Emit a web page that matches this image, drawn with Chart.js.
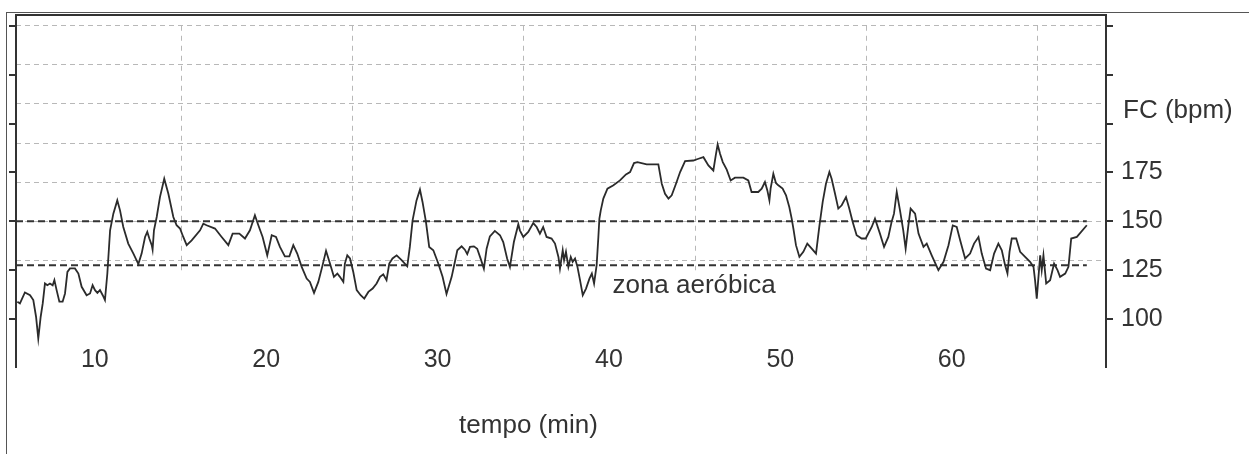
<!DOCTYPE html>
<html lang="pt">
<head>
<meta charset="utf-8">
<title>FC (bpm) x tempo (min)</title>
<script src="https://cdn.jsdelivr.net/npm/chart.js@4.4.1/dist/chart.umd.min.js"></script>
<style>
  html, body { margin: 0; padding: 0; background: #fff; }
  #wrap { position: relative; width: 1249px; height: 454px; }
  #frame { position: absolute; left: 6px; top: 12px; right: 0; bottom: 0;
           border-left: 1px solid #555; border-top: 1px solid #555; pointer-events: none; }
</style>
</head>
<body>
<div id="wrap">
  <canvas id="fcChart" width="1249" height="454"></canvas>
  <div id="frame"></div>
</div>
<script>
// tempo (min) e frequência cardíaca (bpm)
const timeMin = [
  5.48, 5.63, 5.92, 6.22, 6.41, 6.57, 6.70, 6.84, 6.96, 7.09, 7.23, 7.38, 7.54, 7.64, 7.77, 7.93,
  8.12, 8.26, 8.40, 8.55, 8.84, 9.04, 9.23, 9.52, 9.72, 9.87, 10.01, 10.15, 10.30, 10.46, 10.59, 10.73,
  10.89, 11.08, 11.31, 11.47, 11.66, 11.95, 12.25, 12.54, 12.73, 12.93, 13.06, 13.18, 13.32, 13.37, 13.45, 13.61,
  13.80, 14.05, 14.29, 14.58, 14.77, 14.97, 15.16, 15.36, 15.65, 16.14, 16.33, 16.52, 17.01, 17.40, 17.79, 18.04,
  18.43, 18.76, 19.05, 19.34, 19.54, 19.79, 20.06, 20.32, 20.57, 20.80, 21.09, 21.35, 21.58, 21.81, 22.07, 22.36,
  22.55, 22.79, 23.04, 23.29, 23.49, 23.72, 23.95, 24.15, 24.30, 24.50, 24.59, 24.73, 24.89, 25.08, 25.28, 25.51,
  25.72, 25.96, 26.21, 26.44, 26.64, 26.83, 27.02, 27.18, 27.37, 27.61, 27.90, 28.23, 28.38, 28.54, 28.77, 28.97,
  29.12, 29.32, 29.51, 29.75, 30.04, 30.29, 30.52, 30.82, 31.01, 31.15, 31.40, 31.59, 31.73, 31.89, 32.12, 32.31,
  32.51, 32.70, 32.86, 33.05, 33.34, 33.64, 33.83, 34.06, 34.22, 34.45, 34.71, 34.80, 35.00, 35.29, 35.58, 35.78,
  35.97, 36.16, 36.36, 36.65, 36.85, 37.05, 37.14, 37.30, 37.38, 37.49, 37.63, 37.77, 37.88, 38.02, 38.16, 38.31,
  38.47, 38.66, 38.86, 39.00, 39.13, 39.28, 39.38, 39.44, 39.52, 39.67, 39.91, 40.26, 40.64, 40.99, 41.23, 41.46,
  41.66, 42.20, 42.88, 43.08, 43.27, 43.47, 43.66, 43.91, 44.15, 44.44, 44.92, 45.22, 45.51, 45.80, 46.09, 46.23,
  46.34, 46.48, 46.64, 46.87, 47.10, 47.35, 47.84, 48.13, 48.32, 48.71, 48.91, 49.10, 49.24, 49.36, 49.43, 49.59,
  49.74, 49.88, 50.13, 50.33, 50.52, 50.66, 50.76, 50.91, 51.11, 51.34, 51.57, 51.83, 52.08, 52.27, 52.47, 52.66,
  52.86, 52.99, 53.19, 53.38, 53.58, 53.83, 54.02, 54.22, 54.45, 54.74, 54.98, 55.33, 55.52, 55.81, 56.05, 56.30,
  56.49, 56.63, 56.79, 56.98, 57.17, 57.31, 57.47, 57.60, 57.86, 58.06, 58.35, 58.54, 58.83, 59.22, 59.52, 59.81,
  60.06, 60.29, 60.49, 60.78, 61.07, 61.30, 61.56, 61.75, 62.00, 62.24, 62.47, 62.72, 62.92, 63.11, 63.25, 63.37,
  63.50, 63.76, 63.99, 64.28, 64.57, 64.77, 64.86, 64.96, 65.06, 65.16, 65.25, 65.35, 65.51, 65.74, 65.97, 66.17,
  66.32, 66.62, 66.81, 66.97, 67.30, 67.88
];
const heartRate = [
  108.9, 108.0, 113.6, 112.2, 109.7, 101.2, 90.1, 101.2, 108.0, 118.2, 117.3, 118.2, 117.3, 119.9, 114.8, 108.9,
  108.9, 113.1, 124.1, 125.9, 125.9, 123.3, 116.5, 112.2, 113.1, 117.3, 114.8, 113.4, 114.8, 112.2, 109.7, 123.3,
  145.4, 153.9, 160.7, 155.6, 147.1, 138.6, 133.5, 128.1, 133.5, 142.0, 144.6, 141.2, 137.8, 135.5, 145.4, 152.2,
  162.4, 171.8, 164.1, 152.2, 148.0, 146.3, 142.0, 137.8, 140.3, 145.4, 148.8, 148.0, 146.3, 142.0, 137.8, 143.7,
  143.7, 141.2, 145.4, 153.1, 148.0, 142.0, 132.6, 142.9, 142.0, 136.9, 132.1, 132.1, 137.8, 133.5, 126.7, 120.7,
  119.0, 113.4, 119.0, 127.6, 134.9, 128.4, 121.6, 123.3, 121.6, 119.0, 128.4, 132.6, 131.0, 124.1, 114.8, 112.2,
  110.5, 113.9, 115.6, 118.2, 121.6, 122.9, 119.9, 128.4, 131.0, 132.6, 130.1, 127.0, 136.9, 150.5, 160.7, 166.2,
  159.9, 149.7, 136.9, 135.2, 128.4, 121.6, 112.8, 121.6, 129.3, 135.2, 137.2, 135.5, 133.2, 136.9, 137.2, 136.0,
  130.9, 125.8, 136.0, 142.3, 145.1, 142.9, 139.4, 130.9, 126.7, 139.4, 148.5, 145.4, 142.0, 144.6, 149.1, 147.1,
  143.7, 147.1, 142.0, 141.2, 138.6, 131.8, 125.8, 135.2, 130.1, 134.4, 126.7, 131.8, 129.3, 131.0, 126.7, 119.9,
  112.2, 115.6, 120.7, 123.3, 118.2, 127.6, 142.0, 151.4, 155.6, 161.6, 166.7, 168.4, 170.9, 174.0, 175.2, 179.8,
  180.3, 179.1, 179.1, 169.2, 164.1, 161.6, 163.3, 169.2, 175.2, 180.8, 181.1, 182.0, 182.8, 178.6, 176.0, 183.7,
  189.3, 184.5, 180.3, 176.4, 170.9, 172.3, 172.3, 170.9, 165.0, 165.0, 166.7, 170.1, 165.8, 160.7, 166.7, 174.3,
  169.6, 168.4, 166.7, 163.3, 157.3, 151.4, 146.3, 137.8, 131.8, 134.4, 138.6, 136.0, 133.5, 147.1, 159.9, 169.2,
  175.2, 171.8, 164.1, 156.5, 158.2, 162.4, 156.5, 149.7, 142.9, 141.2, 141.2, 147.1, 151.4, 143.7, 136.9, 142.0,
  149.7, 153.9, 165.0, 155.6, 145.4, 136.0, 147.9, 156.5, 153.9, 143.7, 136.9, 138.6, 132.6, 125.0, 129.3, 137.8,
  147.9, 147.1, 140.3, 131.0, 133.5, 138.6, 142.0, 133.5, 125.8, 125.0, 133.5, 138.6, 135.2, 127.6, 123.3, 134.4,
  141.2, 141.2, 134.4, 131.8, 129.3, 126.7, 119.9, 110.5, 121.6, 132.6, 125.0, 132.6, 118.2, 119.9, 128.4, 125.0,
  121.6, 123.3, 126.7, 141.2, 142.0, 148.0
];
const xTicks = [10, 20, 30, 40, 50, 60];
const xGridLines = [15, 25, 35, 45, 55, 65];
const yTicks = [100, 125, 150, 175, 200, 225, 250];
const yLabelMax = 175;
const yGridLines = [130, 150, 170, 190, 210, 230, 250];
const aerobicZone = [127.5, 150];

const xMin = 5.4, xMax = 69;
const yMin = 75.5, yMax = 255.5;
const FONT = '"Liberation Sans", Arial, Helvetica, sans-serif';
const INK = '#333';

const hrPoints = timeMin.map((t, i) => ({ x: t, y: heartRate[i] }));
const lastTime = timeMin[timeMin.length - 1];

// grade vertical tracejada (só na parte de cima) e textos soltos
const extrasPlugin = {
  id: 'extras',
  beforeDatasetsDraw(chart) {
    const { ctx, scales: { x, y } } = chart;
    const top = y.getPixelForValue(250);
    const bottom = y.getPixelForValue(125);
    ctx.save();
    ctx.strokeStyle = '#b8b8b8';
    ctx.lineWidth = 1;
    ctx.setLineDash([5, 5]);
    xGridLines.forEach(v => {
      const px = Math.round(x.getPixelForValue(v)) + 0.5;
      ctx.beginPath();
      ctx.moveTo(px, top);
      ctx.lineTo(px, bottom);
      ctx.stroke();
    });
    ctx.restore();
  },
  afterDraw(chart) {
    const { ctx, chartArea, scales: { x, y } } = chart;
    ctx.save();
    ctx.fillStyle = INK;
    ctx.font = '26px ' + FONT;
    ctx.textBaseline = 'alphabetic';
    ctx.textAlign = 'left';
    ctx.fillText('zona aeróbica', x.getPixelForValue(40.2), y.getPixelForValue(113.4));
    ctx.fillText('FC (bpm)', chartArea.right + 17, y.getPixelForValue(203));
    ctx.textAlign = 'center';
    ctx.fillText('tempo (min)', x.getPixelForValue(35.3), chart.height - 21);
    ctx.restore();
  }
};

const tickMarks = { drawOnChartArea: false, drawTicks: true, tickLength: 7, color: INK, lineWidth: 2 };
const axisLine = { display: true, color: INK, width: 2 };

// tamanho fixo das caixas dos eixos, sem folga para rótulos
function fixBox(w, h) {
  return s => {
    if (w !== null) s.width = w;
    if (h !== null) s.height = h;
    s.paddingTop = 0; s.paddingBottom = 0; s.paddingLeft = 0; s.paddingRight = 0;
  };
}

new Chart(document.getElementById('fcChart'), {
  type: 'line',
  data: {
    datasets: [
      {
        label: 'FC',
        data: hrPoints,
        borderColor: '#2b2b2b',
        borderWidth: 1.8,
        pointRadius: 0,
        tension: 0
      },
      ...aerobicZone.map(v => ({
        label: 'zona ' + v,
        data: [{ x: xMin, y: v }, { x: lastTime, y: v }],
        borderColor: INK,
        borderWidth: 2,
        borderDash: [7, 4],
        pointRadius: 0
      }))
    ]
  },
  options: {
    responsive: false,
    devicePixelRatio: 1,
    animation: false,
    layout: { padding: 0 },
    plugins: { legend: { display: false }, tooltip: { enabled: false } },
    scales: {
      x: {
        type: 'linear', position: 'bottom', min: xMin, max: xMax,
        afterBuildTicks: s => { s.ticks = xTicks.map(v => ({ value: v })); },
        afterFit: fixBox(null, 87),
        grid: { display: false, drawTicks: false },
        border: { display: false },
        ticks: { mirror: true, padding: -8, color: INK, font: { family: FONT, size: 25 }, autoSkip: false, maxRotation: 0 }
      },
      xt: {
        type: 'linear', position: 'top', min: xMin, max: xMax,
        afterFit: fixBox(null, 15),
        grid: { display: false, drawTicks: false },
        border: axisLine,
        ticks: { display: false }
      },
      y: {
        position: 'right', min: yMin, max: yMax,
        afterBuildTicks: s => { s.ticks = yTicks.map(v => ({ value: v })); },
        afterFit: fixBox(143, null),
        grid: tickMarks,
        border: axisLine,
        ticks: {
          padding: 8, color: INK, font: { family: FONT, size: 25 },
          callback: v => (v <= yLabelMax ? v : '')
        }
      },
      yl: {
        position: 'left', min: yMin, max: yMax,
        afterBuildTicks: s => { s.ticks = yTicks.map(v => ({ value: v })); },
        afterFit: fixBox(16, null),
        grid: tickMarks,
        border: axisLine,
        ticks: { display: false }
      },
      yg: {
        position: 'left', min: yMin, max: yMax,
        afterBuildTicks: s => { s.ticks = yGridLines.map(v => ({ value: v })); },
        afterFit: fixBox(0, null),
        grid: { color: '#b8b8b8', lineWidth: 1, drawTicks: false },
        border: { display: false, dash: [5, 4] },
        ticks: { display: false }
      }
    }
  },
  plugins: [extrasPlugin]
});
</script>
</body>
</html>
